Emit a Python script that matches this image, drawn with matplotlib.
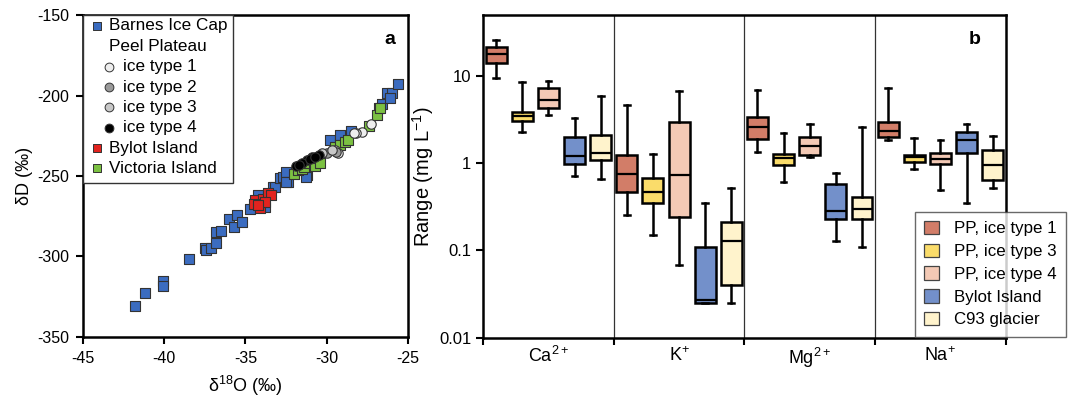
import matplotlib
matplotlib.use("Agg")
import matplotlib.pyplot as plt
from matplotlib.patches import Patch, Rectangle

plt.rcParams['font.family'] = ['Liberation Sans', 'DejaVu Sans']
plt.rcParams['mathtext.default'] = 'regular'
plt.rcParams['axes.unicode_minus'] = False

# ---- panel a data: d18O, dD ----
barnes_x = [-41.8, -41.2, -40.1, -40.1, -38.5, -37.5, -37.4, -37.1, -36.8, -36.8,
            -36.5, -36.0, -35.7, -35.5, -35.2, -34.7, -34.2, -33.8, -33.3, -33.2,
            -32.9, -32.7, -32.5, -32.4, -32.5, -31.2, -31.3, -29.8, -29.2, -28.5,
            -26.8, -26.6, -26.3, -26.0, -26.1, -25.6]
barnes_y = [-331, -322.5, -315.4, -318.3, -301.5, -294.5, -296, -295, -291.4, -284.6,
            -284, -276.7, -281.5, -274.2, -278.4, -270.7, -262, -269.5, -256.6, -257,
            -251.4, -250.4, -247.3, -253.5, -253.5, -249.4, -250.5, -227.6, -224.5, -221.9,
            -207.5, -205.5, -198.6, -198.6, -201.4, -193]
bylot_x = [-34.4, -34.1, -33.9, -33.6, -33.4, -34.5, -33.8, -34.2]
bylot_y = [-265, -270, -264, -260.8, -262, -267.5, -266, -268]
victoria_x = [-32.0, -31.75, -31.5, -31.4, -31.1, -30.8, -30.7, -30.6, -30.4, -29.5,
              -29.2, -28.9, -28.7, -27.4, -26.9, -26.7]
victoria_y = [-248.8, -246.3, -245.8, -244.2, -242, -243.2, -244, -239, -242, -231.8,
              -230.7, -228.7, -227.6, -218.9, -212, -208]
ice1_x = [-27.3, -27.85, -28.2, -28.3, -29.5, -29.3]
ice1_y = [-218, -222.5, -223.5, -223.5, -233.8, -235.5]
ice2_x = [-29.4, -30.0]
ice2_y = [-234.9, -235.5]
ice3_x = [-30.3, -29.7]
ice3_y = [-236, -234]
ice4_x = [-30.5, -30.9, -31.2, -31.5, -31.9, -31.7, -31.0, -30.7]
ice4_y = [-237, -238.4, -240, -242, -244, -243, -239.5, -238]

# ---- panel b data: [whisker low, q1, median, q3, whisker high] per ion ----
ions = ['Ca$^{2+}$', 'K$^{+}$', 'Mg$^{2+}$', 'Na$^{+}$']
series = ['PP, ice type 1', 'PP, ice type 3', 'PP, ice type 4', 'Bylot Island', 'C93 glacier']
pp1 = [[9.5, 14.1, 17.7, 21.5, 26.1], [0.255, 0.47, 0.755, 1.24, 4.6],
       [1.35, 1.88, 2.58, 3.41, 6.9], [1.85, 1.98, 2.36, 2.97, 7.2]]
pp3 = [[2.3, 3.07, 3.47, 3.9, 8.5], [0.149, 0.349, 0.466, 0.685, 1.27],
       [0.617, 0.957, 1.15, 1.27, 2.24], [0.86, 1.03, 1.17, 1.24, 1.96]]
pp4 = [[3.6, 4.3, 5.3, 7.3, 8.7], [0.0676, 0.245, 0.735, 2.94, 6.7],
       [1.19, 1.24, 1.59, 2.0, 2.81], [0.495, 0.98, 1.11, 1.32, 1.85]]
bylot = [[0.72, 0.98, 1.21, 1.98, 3.3], [0.0247, 0.0247, 0.0274, 0.11, 0.349],
         [0.13, 0.229, 0.287, 0.575, 0.77], [0.349, 1.32, 1.85, 2.3, 2.79]]
c93 = [[0.66, 1.08, 1.3, 2.09, 5.9], [0.0247, 0.04, 0.13, 0.212, 0.518],
       [0.11, 0.229, 0.3, 0.41, 2.58], [0.518, 0.645, 0.96, 1.42, 2.05]]
box_colors = ['#D27D68', '#FADC6A', '#F3C9B5', '#7390CA', '#FFF3CC']

fig = plt.figure(figsize=(10.72, 3.99), dpi=100)

# ================= panel a =================
ax = fig.add_axes([0.0774, 0.1554, 0.3032, 0.807])
sq = dict(marker='s', s=50, edgecolors='#333333', linewidths=0.8, zorder=3)
ci = dict(marker='o', s=46, edgecolors='#333333', linewidths=0.8, zorder=4)
ax.scatter(barnes_x, barnes_y, c='#3B6CC0', **sq)
ax.scatter(bylot_x, bylot_y, c='#E2231F', **sq)
ax.scatter(victoria_x, victoria_y, c='#7CC142', **sq)
ax.scatter(ice1_x, ice1_y, c='#EEEEEE', **ci)
ax.scatter(ice2_x, ice2_y, c='#9A9A9A', **ci)
ax.scatter(ice3_x, ice3_y, c='#C8C8C8', **ci)
ax.scatter(ice4_x, ice4_y, c='black', **ci)
ax.set_xlim(-45, -25)
ax.set_ylim(-350, -150)
ax.set_xticks([-45, -40, -35, -30, -25])
ax.set_yticks([-350, -300, -250, -200, -150])
ax.set_xlabel('δ$^{18}$O (‰)', fontsize=13, labelpad=6)
ax.set_ylabel('δD (‰)', fontsize=13, labelpad=3)
ax.tick_params(direction='out', length=5, width=1.5, labelsize=11.5, pad=5)
for sp in ax.spines.values():
    sp.set_linewidth(1.8)
ax.text(0.945, 0.925, 'a', transform=ax.transAxes, fontsize=14, fontweight='bold',
        ha='center', va='center')

# manual legend (Peel Plateau entries indented)
ax.add_patch(Rectangle((0, 0.479), 0.462, 0.521, transform=ax.transAxes,
                       facecolor='white', edgecolor='#333333', lw=1.0, zorder=5))
leg_rows = [
    ('Barnes Ice Cap', 's', '#3B6CC0', 0.0),
    ('Peel Plateau', None, None, 0.0),
    ('ice type 1', 'o', '#EEEEEE', 0.036),
    ('ice type 2', 'o', '#9A9A9A', 0.036),
    ('ice type 3', 'o', '#C8C8C8', 0.036),
    ('ice type 4', 'o', 'black', 0.036),
    ('Bylot Island', 's', '#E2231F', 0.0),
    ('Victoria Island', 's', '#7CC142', 0.0),
]
for i, (lab, mk, col, dx) in enumerate(leg_rows):
    yy = 0.966 - i * 0.0632
    if mk is not None:
        ax.scatter([0.043 + dx], [yy], marker=mk, s=30 if mk == 's' else 40, c=col,
                   edgecolors='#333333', linewidths=0.7, transform=ax.transAxes,
                   zorder=6, clip_on=False)
    ax.text(0.08 + (0.044 if dx else 0), yy, lab, transform=ax.transAxes, fontsize=12.3,
            va='center', ha='left', zorder=6)

# ================= panel b =================
bx = fig.add_axes([0.4506, 0.1536, 0.4876, 0.8088])
all_series = [pp1, pp3, pp4, bylot, c93]
for s_i, (vals, col) in enumerate(zip(all_series, box_colors)):
    stats = []
    pos = []
    for g, v in enumerate(vals):
        stats.append(dict(whislo=v[0], q1=v[1], med=v[2], q3=v[3], whishi=v[4], fliers=[]))
        pos.append(g * 5 + s_i + 0.5)
    bx.bxp(stats, positions=pos, widths=0.8, capwidths=0.22, patch_artist=True,
           showfliers=False,
           boxprops=dict(facecolor=col, edgecolor='black', linewidth=1.8),
           medianprops=dict(color='black', linewidth=1.6),
           whiskerprops=dict(color='black', linewidth=1.8),
           capprops=dict(color='black', linewidth=1.8))
for xv in [5, 10, 15]:
    bx.axvline(xv, color='#333333', lw=0.9, zorder=0)
bx.set_yscale('log')
bx.set_ylim(0.01, 50)
bx.set_xlim(0, 20)
bx.set_yticks([0.01, 0.1, 1, 10])
bx.set_yticklabels(['0.01', '0.1', '1', '10'])
bx.yaxis.set_minor_locator(matplotlib.ticker.NullLocator())
bx.set_xticks([0, 5, 10, 15, 20])
bx.set_xticklabels([])
bx.set_xticks([2.5, 7.5, 12.5, 17.5], minor=True)
bx.set_xticklabels(ions, minor=True)
bx.tick_params(axis='x', which='minor', length=0, labelsize=13, pad=6)
bx.tick_params(which='major', direction='out', length=5, width=1.5, labelsize=12)
bx.set_ylabel('Range (mg L$^{-1}$)', fontsize=14.5, labelpad=2)
for sp in bx.spines.values():
    sp.set_linewidth(1.8)
bx.text(0.94, 0.925, 'b', transform=bx.transAxes, fontsize=14, fontweight='bold',
        ha='center', va='center')

handles = [Patch(facecolor=c, edgecolor='#444444', lw=0.9) for c in box_colors]
leg = fig.legend(handles, series, loc='lower right', bbox_to_anchor=(0.9944, 0.156),
                 borderaxespad=0, fontsize=12.2, frameon=True, fancybox=False,
                 edgecolor='#444444', handlelength=0.85, handleheight=0.85,
                 handletextpad=0.9, labelspacing=0.42, borderpad=0.55)
leg.get_frame().set_linewidth(1.0)
leg.set_zorder(10)

fig.savefig('out.png', dpi=100)
